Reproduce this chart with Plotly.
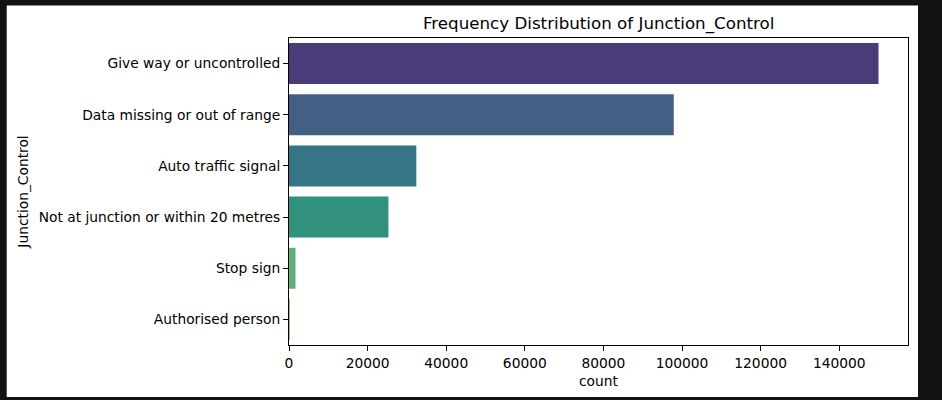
import plotly.graph_objects as go

categories = [
    "Give way or uncontrolled",
    "Data missing or out of range",
    "Auto traffic signal",
    "Not at junction or within 20 metres",
    "Stop sign",
    "Authorised person",
]
counts = [150000, 97900, 32400, 25300, 1650, 200]
# seaborn viridis, desaturated a bit
colors = ["#4a3b79", "#435f86", "#357684", "#31917d", "#5bb275", "#9ac64d"]
x_ticks = [0, 20000, 40000, 60000, 80000, 100000, 120000, 140000]

font = "DejaVu Sans"
bg = "#121212"

fig = go.Figure()
fig.add_trace(go.Bar(
    x=counts,
    y=categories,
    orientation="h",
    width=0.8,
    marker=dict(color=colors, line=dict(width=0)),
    showlegend=False,
))

fig.update_layout(
    width=942,
    height=400,
    paper_bgcolor=bg,
    plot_bgcolor="white",
    margin=dict(l=288.5, r=34, t=37.5, b=55),
    font=dict(family=font, size=13.8, color="black"),
    title=dict(
        text="Frequency Distribution of Junction_Control",
        x=0.6355, xanchor="center",
        y=0.943, yanchor="middle",
        font=dict(size=16.7, color="black"),
    ),
    shapes=[dict(
        type="rect", xref="paper", yref="paper", layer="below",
        x0=(6 - 288.5) / 619.5, x1=(918 - 288.5) / 619.5,
        y0=(345 - 397) / 307.5, y1=(345 - 5) / 307.5,
        fillcolor="white", line=dict(width=0),
    )],
)

fig.update_xaxes(
    range=[0, 157500],
    tickvals=x_ticks,
    tickformat="d",
    ticks="outside", ticklen=5, tickwidth=1, tickcolor="black",
    showline=True, linecolor="black", linewidth=1, mirror=True,
    showgrid=False, zeroline=False,
    title=dict(text="count", standoff=6, font=dict(size=13.8)),
)
fig.update_yaxes(
    categoryorder="array",
    categoryarray=categories,
    autorange="reversed",
    ticks="outside", ticklen=5, tickwidth=1, tickcolor="black",
    showline=True, linecolor="black", linewidth=1, mirror=True,
    showgrid=False, zeroline=False,
    title=dict(text="Junction_Control", standoff=6, font=dict(size=13.8)),
)

fig.write_html(
    "out.html",
    config={"displayModeBar": False},
    post_script="document.body.style.margin='0';document.body.style.background='%s';" % bg,
)
